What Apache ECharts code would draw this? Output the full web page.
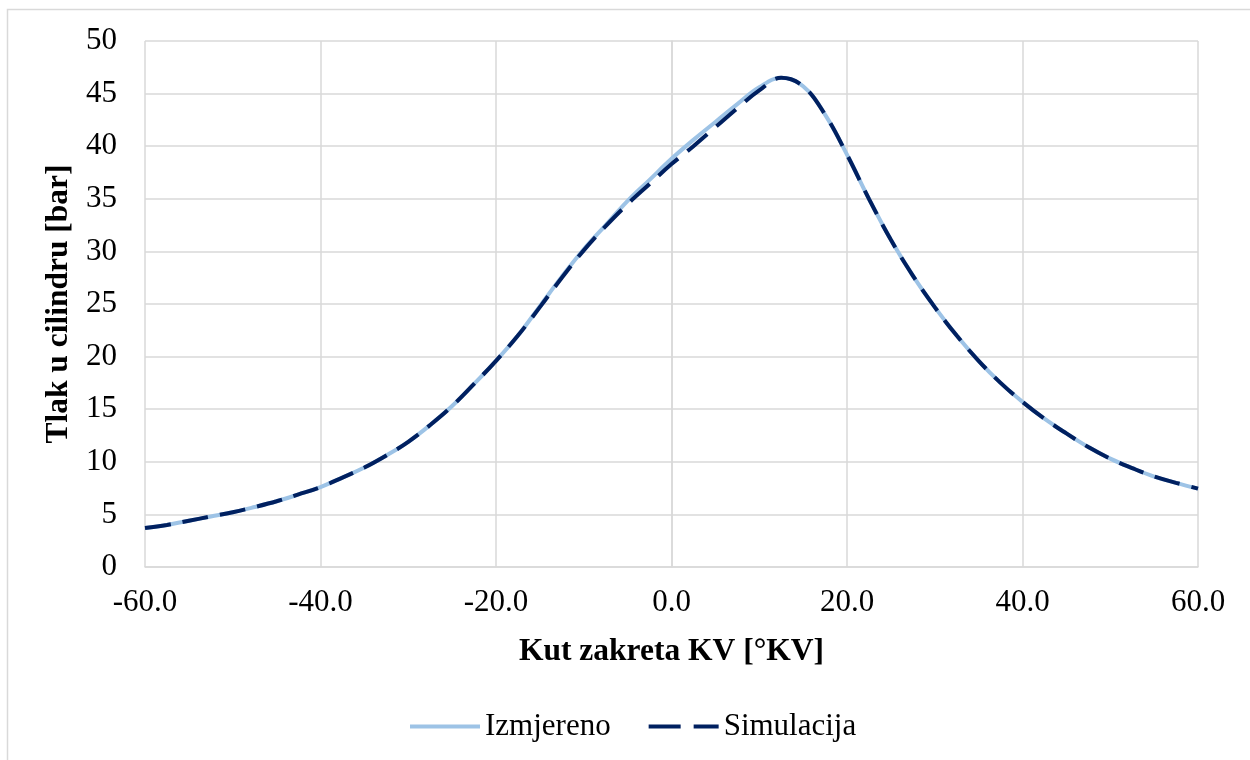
<!DOCTYPE html>
<html>
<head>
<meta charset="utf-8">
<script src="https://cdn.jsdelivr.net/npm/echarts@6/dist/echarts.min.js"></script>
<style>
html,body{margin:0;padding:0;background:#fff;}
#c{width:1250px;height:760px;}
</style>
</head>
<body>
<div id="c"></div>
<script>
var angles = [-60,-57.5,-55,-52.5,-50,-47.5,-45,-42.5,-40,-37.5,-35,-32.5,-30,-27.5,-25,-22.5,-20,-17.5,-15,-12.5,-10,-7.5,-5,-2.5,0,2.5,5,7.5,10,12.5,15,17.5,20,22.5,25,27.5,30,32.5,35,37.5,40,42.5,45,47.5,50,52.5,55,57.5,60];
var measured = [3.7,4.0,4.4,4.8,5.2,5.7,6.25,6.9,7.6,8.5,9.45,10.6,11.9,13.5,15.3,17.4,19.6,22.0,24.8,27.6,30.2,32.5,34.8,36.8,38.8,40.6,42.3,44.0,45.6,46.5,45.7,43.0,39.2,35.0,31.1,27.7,24.7,22.0,19.6,17.5,15.7,14.1,12.7,11.4,10.3,9.4,8.6,8.0,7.45];
var simulated = [3.7,4.0,4.4,4.8,5.2,5.7,6.25,6.9,7.6,8.5,9.45,10.6,11.9,13.5,15.3,17.4,19.6,22.0,24.7,27.5,30.1,32.4,34.5,36.4,38.3,40.0,41.8,43.6,45.3,46.5,45.7,43.0,39.2,35.0,31.1,27.7,24.7,22.0,19.6,17.5,15.7,14.1,12.7,11.4,10.3,9.4,8.6,8.0,7.45];
var seriesNames = ['Izmjereno','Simulacija'];
var xTitle = 'Kut zakreta KV [°KV]';
var yTitle = 'Tlak u cilindru [bar]';

function pairs(xs, ys){ return xs.map(function(x,i){ return [x, ys[i]]; }); }

var font = 'Liberation Serif, Times New Roman, serif';
var lightColor = '#9dc3e6', darkColor = '#002060';
var chart = echarts.init(document.getElementById('c'), null, {renderer:'canvas'});
chart.setOption({
  animation:false,
  backgroundColor:'#fff',
  graphic:[{type:'rect', shape:{x:7.5,y:9.5,width:1260,height:770}, style:{fill:'none',stroke:'#d9d9d9',lineWidth:1.5}, silent:true, z:-10}],
  grid:{left:145,right:52,top:41,bottom:193},
  xAxis:{
    type:'value', min:-60, max:60, interval:20,
    name:xTitle, nameLocation:'middle', nameGap:69,
    nameTextStyle:{fontFamily:font,fontSize:31.5,fontWeight:'bold',color:'#000'},
    axisLine:{show:true,lineStyle:{color:'#d9d9d9',width:1.5}},
    axisTick:{show:false},
    axisLabel:{fontFamily:font,fontSize:31,color:'#000',margin:20,formatter:function(v){return v.toFixed(1);}},
    splitLine:{show:true,lineStyle:{color:'#d9d9d9',width:1.5}}
  },
  yAxis:{
    type:'value', min:0, max:50, interval:5,
    name:yTitle, nameLocation:'middle', nameGap:67,
    nameTextStyle:{fontFamily:font,fontSize:31.5,fontWeight:'bold',color:'#000'},
    axisLine:{show:true,lineStyle:{color:'#d9d9d9',width:1.5}},
    axisTick:{show:false},
    axisLabel:{fontFamily:font,fontSize:31,color:'#000',margin:28},
    splitLine:{show:true,lineStyle:{color:'#d9d9d9',width:1.5}}
  },
  legend:{
    top:706, left:405, itemWidth:70, itemHeight:4, itemGap:38,
    textStyle:{fontFamily:font,fontSize:31,color:'#000',padding:[0,0,0,0]},
    itemStyle:{borderWidth:0},
    data:[
      {name:seriesNames[0], icon:'path://M0,0H70V4H0Z', itemStyle:{color:lightColor}},
      {name:seriesNames[1], icon:'path://M0,0H32V4H0ZM45,0H70V4H45Z', itemStyle:{color:darkColor}}
    ]
  },
  series:[
    {name:seriesNames[0], type:'line', data:pairs(angles,measured), smooth:0.4, symbol:'none',
     lineStyle:{color:lightColor,width:4}, itemStyle:{color:lightColor}, z:2},
    {name:seriesNames[1], type:'line', data:pairs(angles,simulated), smooth:0.4, symbol:'none',
     lineStyle:{color:darkColor,width:4,type:[26,12]}, itemStyle:{color:darkColor}, z:3}
  ]
});
</script>
</body>
</html>
